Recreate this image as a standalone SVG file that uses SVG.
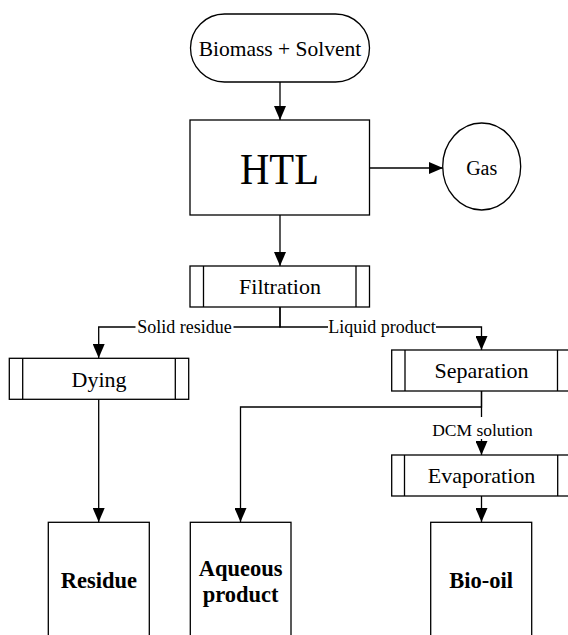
<svg xmlns="http://www.w3.org/2000/svg" width="568" height="635" viewBox="0 0 568 635">
<defs>
<marker id="arr" markerUnits="userSpaceOnUse" markerWidth="14" markerHeight="12" refX="14" refY="6" orient="auto">
<path d="M0,0 L14,6 L0,12 Z" fill="#000"/>
</marker>
<style>
.box{fill:#fff;stroke:#000;stroke-width:1.3}
.in{stroke:#000;stroke-width:1.3;fill:none}
.edge{fill:none;stroke:#000;stroke-width:1.3}
.t{font-family:"Liberation Serif","Times New Roman",serif;font-size:22px;fill:#000;text-anchor:middle}
.lbl{font-family:"Liberation Serif","Times New Roman",serif;font-size:18px;fill:#000;text-anchor:middle}
.b{font-family:"Liberation Serif","Times New Roman",serif;font-size:22.5px;font-weight:bold;fill:#000;text-anchor:middle}
.bg{fill:#fff;stroke:none}
</style>
</defs>
<rect width="568" height="635" fill="#fff"/>
<g id="connectors">
<path class="edge" d="M280,82 V120" marker-end="url(#arr)"/>
<path class="edge" d="M370,168 H443" marker-end="url(#arr)"/>
<path class="edge" d="M280,215 V266" marker-end="url(#arr)"/>
<path class="edge" d="M280,307 V327 H98.7 V358" marker-end="url(#arr)"/>
<path class="edge" d="M280,307 V327 H481.5 V350" marker-end="url(#arr)"/>
<path class="edge" d="M98.7,399 V522" marker-end="url(#arr)"/>
<path class="edge" d="M481.5,391 V407 H240.5 V522" marker-end="url(#arr)"/>
<path class="edge" d="M481.5,391 V455" marker-end="url(#arr)"/>
<path class="edge" d="M481.5,496 V522" marker-end="url(#arr)"/>
<rect class="bg" x="135.5" y="317" width="98" height="20"/>
<text class="lbl" x="184.5" y="333">Solid residue</text>
<rect class="bg" x="328" y="317" width="108" height="20"/>
<text class="lbl" x="382" y="333">Liquid product</text>
<rect class="bg" x="432" y="417" width="101" height="22"/>
<text class="lbl" x="482.5" y="436" style="font-size:17.5px">DCM solution</text>
</g>
<g id="biomass">
<rect class="box" x="190.5" y="14" width="179" height="68" rx="34" ry="34"/>
<text class="t" x="280" y="55.5" style="font-size:21.5px">Biomass + Solvent</text>
</g>
<g id="htl">
<rect class="box" x="190" y="120" width="179.5" height="95"/>
<text class="t" x="279.5" y="184" style="font-size:44px" textLength="79" lengthAdjust="spacingAndGlyphs">HTL</text>
</g>
<g id="gas">
<ellipse class="box" cx="481.7" cy="166.5" rx="39" ry="43.5"/>
<text class="t" x="481.7" y="175" style="font-size:20px">Gas</text>
</g>
<g id="filtration">
<rect class="box" x="190" y="266" width="179.5" height="41"/>
<path class="in" d="M203.5,266 V307 M356,266 V307"/>
<text class="t" x="280" y="294.3">Filtration</text>
</g>
<g id="dying">
<rect class="box" x="9.3" y="358.3" width="179.4" height="41"/>
<path class="in" d="M22.7,358.3 V399.3 M175.3,358.3 V399.3"/>
<text class="t" x="99" y="387.3">Dying</text>
</g>
<g id="separation">
<rect class="box" x="391.7" y="350" width="179.5" height="41"/>
<path class="in" d="M405,350 V391 M557.5,350 V391"/>
<text class="t" x="481.5" y="378.3">Separation</text>
</g>
<g id="evaporation">
<rect class="box" x="391.7" y="455" width="179.5" height="41"/>
<path class="in" d="M404.5,455 V496 M557.7,455 V496"/>
<text class="t" x="481.5" y="483.3">Evaporation</text>
</g>
<g id="residue">
<rect class="box" x="48.3" y="522.3" width="101" height="125"/>
<text class="b" x="98.8" y="588.3">Residue</text>
</g>
<g id="aqueous">
<rect class="box" x="190.3" y="522.3" width="100.7" height="125"/>
<text class="b" x="240.6" y="575.7">Aqueous</text>
<text class="b" x="240.6" y="601.7">product</text>
</g>
<g id="biooil">
<rect class="box" x="430.7" y="522.3" width="101" height="125"/>
<text class="b" x="481.2" y="588.3">Bio-oil</text>
</g>
</svg>
